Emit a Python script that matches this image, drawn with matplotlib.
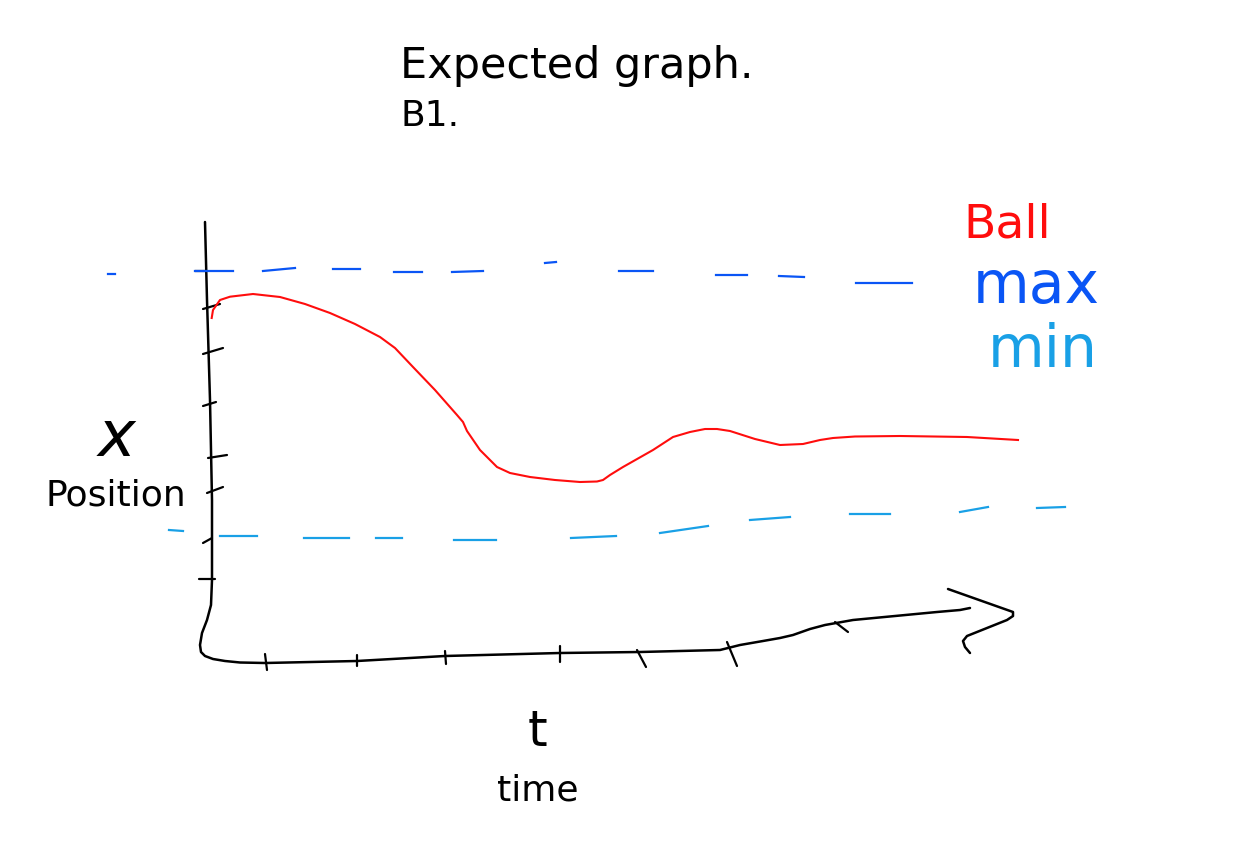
import numpy as np
import matplotlib
matplotlib.use('Agg')
import matplotlib.pyplot as plt

# units: time t along x, position along y (hand sketch, arbitrary units)
ball_t = [0.067, 0.08, 0.15, 0.25, 0.48, 0.75, 1.00, 1.25, 1.50, 1.75, 1.90, 2.08,
          2.30, 2.52, 2.58, 2.62, 2.75, 2.92, 3.05, 3.25, 3.50, 3.75, 3.92, 3.98,
          4.05, 4.18, 4.48, 4.68, 4.85, 5.00, 5.12, 5.25, 5.50, 5.75, 5.98, 6.15,
          6.28, 6.50, 6.95, 7.62, 8.13]
ball_pos = [3.42, 3.50, 3.60, 3.633, 3.66, 3.63, 3.56, 3.47, 3.36, 3.23, 3.12, 2.93,
            2.70, 2.45, 2.38, 2.29, 2.10, 1.93, 1.87, 1.83, 1.80, 1.78, 1.785, 1.80,
            1.85, 1.93, 2.10, 2.23, 2.28, 2.31, 2.31, 2.29, 2.21, 2.15, 2.16, 2.20,
            2.22, 2.235, 2.24, 2.23, 2.20]

# max line, drawn as separate dashes: start t, end t, start pos, end pos
max_t0 = [-0.97, -0.10, 0.58, 1.28, 1.89, 2.47, 3.40, 4.14, 5.11, 5.74, 6.51]
max_t1 = [-0.90, 0.28, 0.90, 1.55, 2.17, 2.78, 3.51, 4.48, 5.42, 5.99, 7.07]
max_p0 = [3.86, 3.89, 3.89, 3.91, 3.88, 3.88, 3.97, 3.89, 3.85, 3.84, 3.77]
max_p1 = [3.86, 3.89, 3.92, 3.91, 3.88, 3.89, 3.98, 3.89, 3.85, 3.83, 3.77]

# min line dashes
min_t0 = [-0.36, 0.15, 0.99, 1.71, 2.49, 3.66, 4.55, 5.45, 6.45, 7.55, 8.32]
min_t1 = [-0.22, 0.52, 1.44, 1.97, 2.91, 4.11, 5.03, 5.85, 6.85, 7.83, 8.60]
min_p0 = [1.30, 1.24, 1.22, 1.22, 1.20, 1.22, 1.27, 1.40, 1.46, 1.48, 1.52]
min_p1 = [1.29, 1.24, 1.22, 1.22, 1.20, 1.24, 1.34, 1.43, 1.46, 1.53, 1.53]

# hand drawn axes (y axis going down, round the corner, then along x)
axis_t = [0.00, 0.02, 0.05, 0.07, 0.07, 0.06, 0.02, -0.03, -0.05, -0.04, 0.00, 0.08,
          0.20, 0.35, 0.60, 1.52, 2.40, 3.55, 4.35, 5.15, 5.35, 5.58, 5.75, 5.88,
          6.05, 6.20, 6.48, 7.32, 7.55, 7.65]
axis_pos = [4.38, 3.60, 2.60, 1.60, 0.80, 0.55, 0.40, 0.27, 0.15, 0.08, 0.04, 0.01,
            -0.01, -0.025, -0.03, -0.01, 0.04, 0.07, 0.08, 0.10, 0.15, 0.19, 0.22, 0.25,
            0.31, 0.35, 0.40, 0.48, 0.50, 0.52]
arrow_t = [7.43, 8.08, 8.08, 8.02, 7.62, 7.58, 7.60, 7.65]
arrow_pos = [0.71, 0.48, 0.44, 0.40, 0.24, 0.19, 0.13, 0.07]

# tick strokes: (t0, p0, t1, p1)
xtick_marks = [(0.60, 0.06, 0.62, -0.10), (1.52, 0.05, 1.52, -0.06),
               (2.40, 0.09, 2.41, -0.04), (3.55, 0.14, 3.55, -0.02),
               (4.32, 0.10, 4.41, -0.07), (5.22, 0.18, 5.32, -0.06),
               (6.30, 0.38, 6.43, 0.28)]
ytick_marks = [(-0.10, 3.89, 0.00, 3.89), (-0.02, 3.51, 0.15, 3.56),
               (-0.02, 3.06, 0.18, 3.12), (-0.02, 2.54, 0.11, 2.58),
               (0.03, 2.02, 0.22, 2.05), (0.02, 1.67, 0.18, 1.73),
               (-0.02, 1.17, 0.07, 1.22), (-0.06, 0.81, 0.10, 0.81)]

red = '#ff0d0d'
maxBlue = '#0a55f5'
minBlue = '#19a0e6'

fig = plt.figure(figsize=(12.55, 8.47), dpi=100)
ax = fig.add_axes([0, 0, 1, 1])
ax.set_xlim(-2.05, 10.50)
ax.set_ylim(-1.87, 6.60)
ax.axis('off')

ax.plot(axis_t, axis_pos, color='black', lw=1.8, solid_capstyle='round', solid_joinstyle='round')
ax.plot(arrow_t, arrow_pos, color='black', lw=1.8, solid_capstyle='round', solid_joinstyle='round')
for t0, p0, t1, p1 in xtick_marks + ytick_marks:
    ax.plot([t0, t1], [p0, p1], color='black', lw=1.6, solid_capstyle='round')

for i in range(len(max_t0)):
    ax.plot([max_t0[i], max_t1[i]], [max_p0[i], max_p1[i]], color=maxBlue, lw=1.6)
for i in range(len(min_t0)):
    ax.plot([min_t0[i], min_t1[i]], [min_p0[i], min_p1[i]], color=minBlue, lw=1.6)

ax.plot(ball_t, ball_pos, color=red, lw=1.5, solid_joinstyle='round')

# labels
W, H = 1255, 847
def put(px, py, s, **kw):
    fig.text(px / W, 1 - py / H, s, **kw)

put(400, 78, 'Expected graph.', fontsize=31, va='baseline')
put(400, 126, 'B1.', fontsize=26, va='baseline')
put(963, 237, 'Ball', fontsize=34, color=red, va='baseline')
put(973, 303, 'max', fontsize=42, color=maxBlue, va='baseline')
put(988, 367, 'min', fontsize=42, color=minBlue, va='baseline')
put(98, 456, 'x', fontsize=46, style='italic', va='baseline')
put(46, 505, 'Position', fontsize=26, va='baseline')
put(528, 746, 't', fontsize=36, va='baseline')
put(497, 800, 'time', fontsize=26, va='baseline')

fig.savefig('out.png', dpi=100, facecolor='white')
